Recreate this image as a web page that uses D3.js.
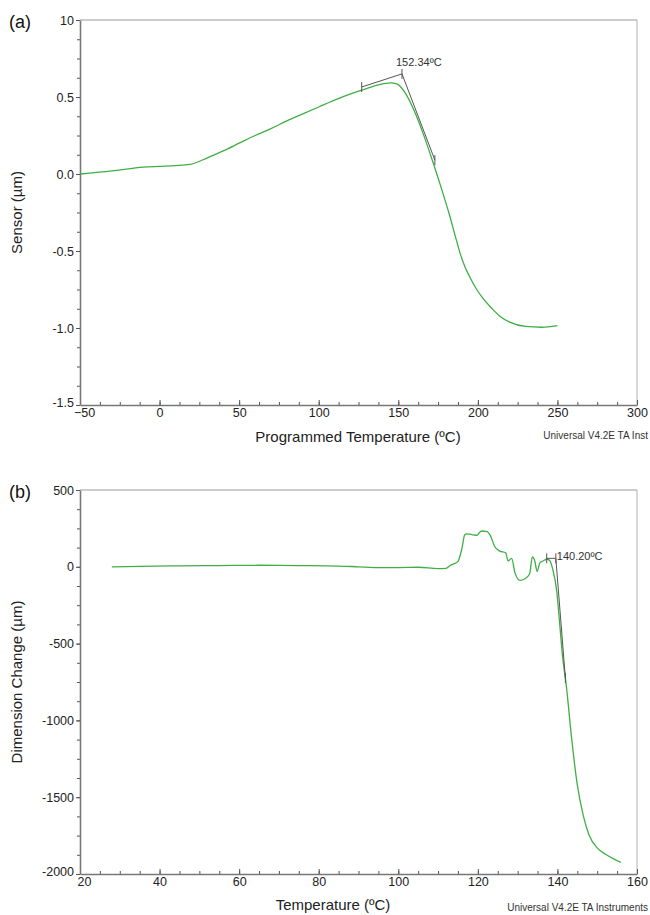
<!DOCTYPE html>
<html>
<head>
<meta charset="utf-8">
<script src="https://cdn.jsdelivr.net/npm/d3@7"></script>
<style>
  body { margin: 0; background: #fff; }
  svg { font-family: "Liberation Sans", Arial, sans-serif; }
</style>
</head>
<body>
<svg id="chart" width="650" height="915"></svg>
<script>
// panel (a) data: programmed temperature vs sensor
var aTemp   = [-50, -30, -10, 0, 10, 19, 30, 40, 50, 60, 70, 80, 90, 100, 110, 120, 130, 138, 145, 149, 152, 155, 160, 165, 172, 177, 182, 186, 189, 192, 195, 199, 203, 209, 214, 220, 230, 240, 250];
var aSensor = [0, 0.02, 0.045, 0.05, 0.055, 0.062, 0.105, 0.15, 0.2, 0.25, 0.295, 0.345, 0.39, 0.435, 0.48, 0.52, 0.555, 0.58, 0.592, 0.585, 0.56, 0.515, 0.41, 0.28, 0.07, -0.09, -0.26, -0.41, -0.52, -0.605, -0.67, -0.745, -0.805, -0.875, -0.925, -0.962, -0.99, -0.995, -0.985];
var aXTicks = [-50, 0, 50, 100, 150, 200, 250, 300];
var aYTicks = [-1.5, -1.0, -0.5, 0.0, 0.5, 1.0];
var aYLabels = ["-1.5", "-1.0", "-0.5", "0.0", "0.5", "10"];
// onset construction lines (a)
var aTangentT = [127, 152.34, 173];
var aTangentV = [0.565, 0.65, 0.09];

// panel (b) data: temperature vs dimension change
var bTemp = [28, 35, 45, 55, 65, 75, 85, 90, 95, 100, 105, 110, 112, 113, 115, 116, 116.7, 117.2, 118.5, 119.7, 120.9, 122.3, 123.2, 124.2, 125.5, 127, 127.6, 128.5, 129.3, 130.6, 131.8, 133, 133.7, 134.3, 134.9, 135.6, 136.4, 137.3, 138, 138.9, 139.8, 140.5, 141.2, 142.3, 143.5, 145, 146.5, 148, 150, 152, 154, 156];
var bDim  = [0, 3, 6, 8, 10, 8, 5, 0, -5, -5, -3, -12, -10, 8, 35, 120, 208, 214, 210, 204, 233, 229, 200, 134, 102, 91, 38, 55, -36, -89, -78, -47, 64, 38, -30, 27, 38, 49, 42, -25, -153, -350, -560, -789, -1100, -1420, -1620, -1750, -1830, -1870, -1900, -1925];
var bXTicks = [20, 40, 60, 80, 100, 120, 140, 160];
var bYTicks = [-2000, -1500, -1000, -500, 0, 500];
// onset construction lines (b)
var bTangentT = [137.3, 139.6, 142];
var bTangentV = [55, 55, -725];

var svg = d3.select("#chart");
var green = "#3fae44";

function panel(opt) {
  var x = d3.scaleLinear().domain(opt.xDomain).range([80, 637]);
  var y = d3.scaleLinear().domain(opt.yDomain).range([opt.bottom, opt.top]);
  var g = svg.append("g");

  // frame top/right
  g.append("line").attr("x1", 80).attr("x2", 637).attr("y1", opt.top).attr("y2", opt.top)
    .attr("stroke", "#9a9a9a").attr("stroke-width", 1.2);
  g.append("line").attr("x1", 637).attr("x2", 637).attr("y1", opt.top).attr("y2", opt.bottom)
    .attr("stroke", "#b0b0b0").attr("stroke-width", 1);

  // minor ticks
  var xMinor = d3.range(opt.xDomain[0], opt.xDomain[1] + 1e-9, opt.xMinor);
  var yMinor = d3.range(opt.yDomain[0], opt.yDomain[1] + 1e-9, opt.yMinor);
  g.append("g").attr("transform", "translate(0," + opt.bottom + ")")
    .call(d3.axisBottom(x).tickValues(xMinor).tickSize(-3).tickFormat(""))
    .call(function(s) { s.select(".domain").remove(); s.selectAll("line").attr("stroke", "#555"); });
  g.append("g").attr("transform", "translate(80,0)")
    .call(d3.axisLeft(y).tickValues(yMinor).tickSize(3).tickFormat(""))
    .call(function(s) { s.select(".domain").remove(); s.selectAll("line").attr("stroke", "#555"); });

  // major axes
  var xa = g.append("g").attr("transform", "translate(0," + opt.bottom + ")")
    .call(d3.axisBottom(x).tickValues(opt.xTicks).tickSize(-5).tickSizeOuter(0).tickPadding(2));
  xa.select(".domain").attr("stroke", "#777").attr("stroke-width", 1.6);
  xa.selectAll("line").attr("stroke", "#555");
  xa.selectAll("text").attr("font-size", 12.5).attr("fill", "#222").attr("dy", "0.8em");
  xa.selectAll(".tick").filter(function(d, i) { return i === 0; }).select("text").attr("dx", 4);

  var ya = g.append("g").attr("transform", "translate(80,0)")
    .call(d3.axisLeft(y).tickValues(opt.yTicks).tickSize(4).tickSizeOuter(0).tickPadding(2)
      .tickFormat(function(d, i) { return opt.yLabels[i]; }));
  ya.select(".domain").attr("stroke", "#777").attr("stroke-width", 1.6);
  ya.selectAll("line").attr("stroke", "#555");
  ya.selectAll("text").attr("font-size", 12.5).attr("fill", "#222");
  ya.selectAll(".tick").filter(function(d, i) { return i === 0; }).select("text").attr("dy", "0.15em");

  // data curve
  var pts = opt.xs.map(function(t, i) { return [t, opt.ys[i]]; });
  g.append("path").datum(pts)
    .attr("d", d3.line().x(function(d) { return x(d[0]); }).y(function(d) { return y(d[1]); }).curve(d3.curveMonotoneX))
    .attr("fill", "none").attr("stroke", green).attr("stroke-width", 1.3);

  // tangent construction
  var tp = opt.tanT.map(function(t, i) { return [t, opt.tanV[i]]; });
  g.append("path").datum(tp)
    .attr("d", d3.line().x(function(d) { return x(d[0]); }).y(function(d) { return y(d[1]); }))
    .attr("fill", "none").attr("stroke", "#555").attr("stroke-width", 1);
  g.selectAll(".tk").data(tp).enter().append("line")
    .attr("x1", function(d) { return x(d[0]); }).attr("x2", function(d) { return x(d[0]); })
    .attr("y1", function(d) { return y(d[1]) - 5; }).attr("y2", function(d) { return y(d[1]) + 5; })
    .attr("stroke", "#555").attr("stroke-width", 1);
  g.append("text").attr("x", x(tp[1][0]) + opt.lblDx).attr("y", y(tp[1][1]) + opt.lblDy)
    .attr("font-size", 11).attr("fill", "#333").text(opt.label);

  // titles
  g.append("text").attr("x", opt.titleX).attr("y", opt.bottom + opt.titleDy).attr("text-anchor", "middle")
    .attr("font-size", 15).attr("fill", "#222").text(opt.xTitle);
  g.append("text").attr("transform", "translate(22," + ((opt.top + opt.bottom) / 2) + ") rotate(-90)")
    .attr("text-anchor", "middle").attr("font-size", 15).attr("fill", "#222").text(opt.yTitle);
  g.append("text").attr("x", 648).attr("y", opt.bottom + opt.stampDy).attr("text-anchor", "end")
    .attr("font-size", 10).attr("fill", "#333").text(opt.stamp);
  g.append("text").attr("x", 9).attr("y", opt.top + 8).attr("font-size", 18).attr("fill", "#111").text(opt.tag);
}

panel({
  xDomain: [-50, 300], yDomain: [-1.5, 1.0], top: 20, bottom: 405,
  xTicks: aXTicks, yTicks: aYTicks, yLabels: aYLabels, xMinor: 12.5, yMinor: 0.125,
  xs: aTemp, ys: aSensor, tanT: aTangentT, tanV: aTangentV,
  label: "152.34ºC", lblDx: -6, lblDy: -8,
  xTitle: "Programmed Temperature (ºC)", titleX: 358, titleDy: 37, yTitle: "Sensor (µm)",
  stamp: "Universal V4.2E TA Inst", stampDy: 34, tag: "(a)"
});

panel({
  xDomain: [20, 160], yDomain: [-2000, 500], top: 490, bottom: 874,
  xTicks: bXTicks, yTicks: bYTicks, yLabels: bYTicks.map(String), xMinor: 5, yMinor: 125,
  xs: bTemp, ys: bDim, tanT: bTangentT, tanV: bTangentV,
  label: "140.20ºC", lblDx: 1, lblDy: 2,
  xTitle: "Temperature (ºC)", titleX: 333, titleDy: 36, yTitle: "Dimension Change (µm)",
  stamp: "Universal V4.2E TA Instruments", stampDy: 37, tag: "(b)"
});
</script>
</body>
</html>
